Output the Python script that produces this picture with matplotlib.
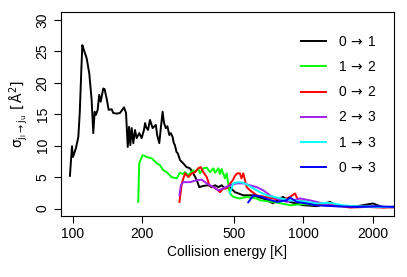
import matplotlib
matplotlib.use("Agg")
import matplotlib.pyplot as plt
from matplotlib.font_manager import FontProperties
from matplotlib.ticker import FixedLocator, NullLocator

plt.rcParams["font.family"] = ["Liberation Sans", "DejaVu Sans"]
plt.rcParams["font.size"] = 10
plt.rcParams["mathtext.fontset"] = "custom"
plt.rcParams["mathtext.rm"] = "Liberation Sans"
plt.rcParams["mathtext.it"] = "Liberation Sans"

# transition 0 -> 1
e01 = [97, 99, 100, 103, 105.5, 107, 108.7, 109.8, 111.6, 114.7, 117.7, 120.5, 122.5,
       124.2, 125.8, 128, 130, 131.9, 135.4, 137.2, 140, 142.9, 147.2, 149.6, 154.8,
       160, 164.4, 166.6, 170, 172.9, 175.2, 177.4, 179.9, 182.8, 185.9, 189, 194,
       198.7, 203.4, 205.7, 207.5, 211.7, 216, 221.7, 229, 232, 237, 241, 245, 248.5,
       253, 257, 262, 266, 270.7, 274, 277, 281.5, 285, 291.8, 301, 311, 322, 333, 345,
       353.5, 368, 387, 400, 414, 428, 442, 457, 480, 505, 523, 549, 583, 605, 668, 739,
       816, 875, 997, 1147, 1306, 1400, 1710, 2008, 2219, 2500]
s01 = [5.2, 9.9, 8.2, 9.6, 11.4, 15.2, 22.0, 26.0, 25.2, 23.9, 21.5, 17.3, 12.0,
       15.4, 14.9, 15.7, 18.1, 17.0, 19.1, 19.0, 17.5, 15.7, 15.8, 15.2, 15.1,
       15.2, 15.8, 16.1, 15.2, 9.8, 13.0, 10.1, 12.8, 10.4, 12.5, 11.2, 12.0,
       11.2, 12.5, 13.6, 13.0, 12.5, 14.1, 12.8, 13.3, 11.7, 10.4, 13.0, 15.4, 13.6,
       12.8, 13.1, 11.7, 12.0, 11.4, 10.4, 10.1, 9.0, 8.8, 7.7, 7.2, 6.6, 6.4, 5.6, 4.5,
       3.4, 3.6, 3.7, 3.4, 3.7, 3.4, 3.7, 3.2, 3.4, 2.6, 2.4, 2.1, 2.1, 2.1, 1.6, 0.85,
       1.85, 1.05, 0.53, 0.37, 1.05, 0.37, 0.37, 0.8, 0.2, 0.3]

# transition 1 -> 2
e12 = [192, 194, 200.6, 209, 219.6, 231, 238.6, 246.6, 255, 268, 282, 291, 301, 306.5,
       317, 322, 333, 339, 350, 356, 368, 381, 393.5, 407, 414, 428, 435, 442, 457, 465,
       472, 480, 497, 531, 568, 628, 649, 741, 876, 1000, 1306, 1706, 2500]
s12 = [1.05, 7.2, 8.5, 8.2, 8.0, 7.2, 6.9, 6.1, 5.8, 5.0, 4.8, 5.7, 5.5, 5.8,
       5.3, 5.6, 6.1, 5.8, 6.4, 5.6, 6.4, 6.5, 5.8, 6.4, 5.7, 6.4, 5.5, 6.3, 4.8, 5.6,
       4.0, 2.4, 1.85, 1.6, 1.85, 1.6, 1.3, 1.05, 0.53, 0.7, 0.5, 0.3, 0.2]

# transition 0 -> 2
e02 = [290, 297, 306.5, 317, 328, 339, 350, 358.5, 368, 381, 391, 407, 421, 435, 450,
       465, 480, 494, 505, 517, 531, 539, 549, 568, 587, 628, 682, 741, 806, 876, 920,
       951, 1035, 1143, 1306, 1396, 1595, 1885, 2218, 2500]
s02 = [1.05, 4.0, 5.6, 5.0, 5.6, 5.8, 6.4, 6.6, 5.8, 5.0, 3.7, 3.4, 3.1, 2.6, 3.2,
       3.2, 3.9, 4.5, 5.2, 5.6, 5.6, 4.8, 5.6, 3.4, 2.9, 2.1, 1.85, 1.6, 1.3, 1.85, 2.4,
       1.3, 1.05, 0.5, 0.8, 0.5, 0.15, 0.25, 0.15, 0.2]

# transition 2 -> 3
e23 = [290, 294, 301, 322, 344.5, 362, 381, 407, 428, 450, 480, 514, 549, 587, 628,
       670, 717, 766, 847, 968, 1069, 1143, 1306, 1595, 2083, 2500]
s23 = [2.1, 3.7, 4.2, 4.2, 4.5, 4.6, 4.0, 3.4, 2.9, 3.2, 3.7, 4.0, 4.0, 3.7, 3.4,
       2.9, 2.1, 1.6, 1.05, 1.6, 1.3, 1.05, 0.5, 0.35, 0.3, 0.2]

# transition 1 -> 3
e13 = [480, 497, 522, 549, 577, 607, 649, 694, 767, 876, 1000, 1143, 1306, 1492,
       1706, 2218, 2500]
s13 = [2.4, 4.0, 4.2, 4.1, 3.7, 3.2, 2.6, 2.1, 1.75, 1.3, 1.15, 0.8, 0.9, 0.5,
       0.35, 0.25, 0.25]

# transition 0 -> 3
e03 = [577, 607, 649, 705, 767, 847, 876, 936, 1035, 1143, 1396, 1706, 2083, 2500]
s03 = [1.0, 2.1, 1.95, 1.45, 1.05, 1.3, 1.75, 1.05, 0.8, 0.5, 0.35, 0.25, 0.35, 0.25]

labels = [r"0$\,\rightarrow\,$1", r"1$\,\rightarrow\,$2", r"0$\,\rightarrow\,$2",
          r"2$\,\rightarrow\,$3", r"1$\,\rightarrow\,$3", r"0$\,\rightarrow\,$3"]
colors = ["black", "#00ff00", "#ff0000", "#a020f0", "#00ffff", "#0000ff"]

xticks = [100, 200, 500, 1000, 2000]
yticks = [0, 5, 10, 15, 20, 25, 30]

fig = plt.figure(figsize=(4.07, 2.77), dpi=100)
ax = fig.add_axes([0.149, 0.220, 0.819, 0.735])

series = [(e01, s01), (e12, s12), (e02, s02), (e23, s23), (e13, s13), (e03, s03)]
for (e, s), c, lab in zip(series, colors, labels):
    ax.plot(e, s, color=c, lw=1.4, label=lab)

ax.set_xscale("log")
ax.set_xlim(88.4, 2477)
ax.set_ylim(-1.2, 31.2)
ax.xaxis.set_major_locator(FixedLocator(xticks))
ax.xaxis.set_minor_locator(NullLocator())
ax.set_xticklabels([str(t) for t in xticks])
ax.set_yticks(yticks)
ax.set_yticklabels([str(t) for t in yticks], rotation=90, va="center")
ax.tick_params(direction="out", length=5, width=0.8, pad=3)
for sp in ax.spines.values():
    sp.set_linewidth(0.8)

ax.set_xlabel("Collision energy [K]", labelpad=3)
ax.set_ylabel(r"$\mathrm{\sigma_{j_l\rightarrow j_u}\ [\,\AA^2]}$", labelpad=4,
              fontproperties=FontProperties(family="Liberation Sans", size=10,
                                            math_fontfamily="dejavusans"))

leg_font = FontProperties(family="Liberation Sans", size=10, math_fontfamily="dejavusans")
ax.legend(loc="upper right", bbox_to_anchor=(0.985, 0.95), frameon=False, prop=leg_font,
          handlelength=1.8, handletextpad=0.85, labelspacing=0.8, borderaxespad=0.5)

fig.savefig("out.png", dpi=100)
